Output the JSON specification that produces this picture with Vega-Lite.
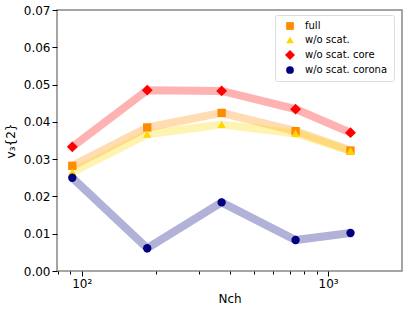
{
  "$schema": "https://vega.github.io/schema/vega-lite/v6.json",
  "width": 345,
  "height": 261,
  "autosize": "none",
  "padding": {"left": 57, "top": 10, "right": 5, "bottom": 40},
  "background": "white",
  "config": {
    "font": "DejaVu Sans",
    "view": {"stroke": "#888888", "strokeWidth": 1.5},
    "axis": {"labelFont": "DejaVu Sans", "titleFont": "DejaVu Sans", "labelFontSize": 12, "titleFontSize": 12, "titleFontWeight": "normal", "labelColor": "black", "titleColor": "black", "tickColor": "black", "domain": false, "grid": false}
  },
  "data": {"values": [
    {"series": "full", "nch": 91.6, "v": 0.0282},
    {"series": "full", "nch": 184.5, "v": 0.0385},
    {"series": "full", "nch": 369.7, "v": 0.0424},
    {"series": "full", "nch": 738, "v": 0.0375},
    {"series": "full", "nch": 1233, "v": 0.0323},
    {"series": "w/o scat.", "nch": 91.6, "v": 0.0265},
    {"series": "w/o scat.", "nch": 184.5, "v": 0.0367},
    {"series": "w/o scat.", "nch": 369.7, "v": 0.0393},
    {"series": "w/o scat.", "nch": 738, "v": 0.0369},
    {"series": "w/o scat.", "nch": 1233, "v": 0.0322},
    {"series": "w/o scat. core", "nch": 91.6, "v": 0.0333},
    {"series": "w/o scat. core", "nch": 184.5, "v": 0.0485},
    {"series": "w/o scat. core", "nch": 369.7, "v": 0.0483},
    {"series": "w/o scat. core", "nch": 738, "v": 0.0434},
    {"series": "w/o scat. core", "nch": 1233, "v": 0.0371},
    {"series": "w/o scat. corona", "nch": 91.6, "v": 0.0250},
    {"series": "w/o scat. corona", "nch": 184.5, "v": 0.0061},
    {"series": "w/o scat. corona", "nch": 369.7, "v": 0.0184},
    {"series": "w/o scat. corona", "nch": 738, "v": 0.0083},
    {"series": "w/o scat. corona", "nch": 1233, "v": 0.0102}
  ]},
  "encoding": {
    "x": {"field": "nch", "type": "quantitative",
      "scale": {"type": "log", "domain": [79.4, 1995], "nice": false},
      "axis": {"title": "Nch", "values": [80, 90, 100, 200, 300, 400, 500, 600, 700, 800, 900, 1000],
        "labelExpr": "datum.value == 100 ? '10²' : datum.value == 1000 ? '10³' : ''",
        "tickSize": {"condition": {"test": "datum.value == 100 || datum.value == 1000", "value": 5}, "value": 3},
        "labelPadding": 2, "titlePadding": 4}},
    "y": {"field": "v", "type": "quantitative",
      "scale": {"domain": [0, 0.07], "nice": false},
      "axis": {"title": "v₃{2}", "values": [0, 0.01, 0.02, 0.03, 0.04, 0.05, 0.06, 0.07], "format": ".2f", "tickSize": 5, "titlePadding": 6}},
    "color": {"field": "series", "type": "nominal",
      "scale": {"domain": ["full", "w/o scat.", "w/o scat. core", "w/o scat. corona"], "range": ["#ff8c00", "#ffd700", "#ff0000", "#000080"]},
      "legend": {"title": null, "orient": "none", "legendX": 218, "legendY": 5, "labelFontSize": 10, "symbolSize": 60, "symbolOpacity": 1, "rowPadding": 4, "padding": 6, "strokeColor": "#dddddd", "fillColor": "white", "cornerRadius": 2, "symbolOffset": 4, "labelOffset": 10, "symbolStrokeWidth": 0}}
  },
  "layer": [
    {"mark": {"type": "line", "strokeWidth": 8, "opacity": 0.3}},
    {"mark": {"type": "point", "filled": true, "opacity": 1, "size": 70},
      "encoding": {
        "shape": {"field": "series", "type": "nominal",
          "scale": {"domain": ["full", "w/o scat.", "w/o scat. core", "w/o scat. corona"], "range": ["square", "triangle-up", "M0,-1.3L1.3,0L0,1.3L-1.3,0Z", "circle"]}}
      }}
  ]
}
